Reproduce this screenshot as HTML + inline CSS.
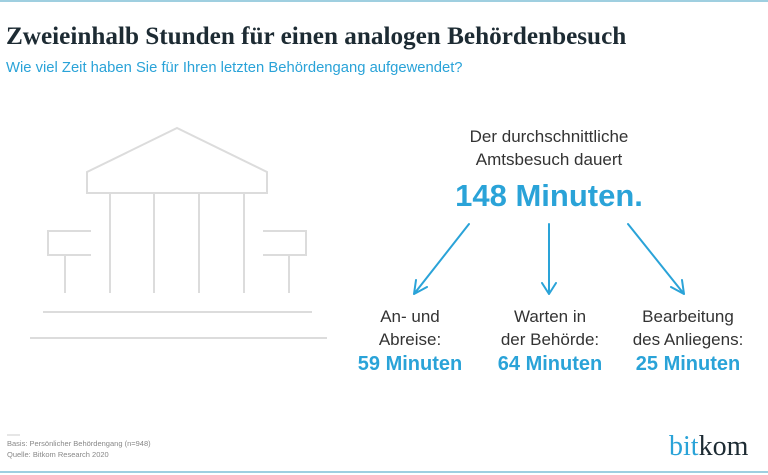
<!DOCTYPE html>
<html><head><meta charset="utf-8"><style>
body{margin:0;width:768px;height:475px;background:#fff;position:relative;overflow:hidden;font-family:"Liberation Sans",sans-serif}
.t{position:absolute;white-space:nowrap}
</style></head><body>
<div style="position:absolute;left:0;top:0;width:768px;height:2px;background:#9fcfe0"></div>
<div style="position:absolute;left:0;top:471px;width:768px;height:2px;background:#9fcfe0"></div>
<div class="t" style="left:6px;top:23px;font-family:'Liberation Serif',serif;font-weight:bold;font-size:25.2px;color:#1d2b33">Zweieinhalb Stunden für einen analogen Behördenbesuch</div>
<div class="t" style="left:6px;top:60px;font-size:14.8px;color:#2aa3d8">Wie viel Zeit haben Sie für Ihren letzten Behördengang aufgewendet?</div>
<svg width="768" height="475" style="position:absolute;left:0;top:0" fill="none">
<g stroke="#dcdcdc" stroke-width="2">
<path d="M87,193 L87,172 L177,128 L267,172 L267,193 Z"/>
<path d="M110,193V293M154,193V293M199,193V293M244,193V293"/>
<path d="M91,231H48V255H91M65,255V293"/>
<path d="M263,231H306V255H263M289,255V293"/>
<path d="M43,312H312M30,338H327"/>
</g>
<g stroke="#2aa3d8" stroke-width="2" stroke-linecap="round">
<path d="M469,224L414,294M414,294L416,280M414,294L427,287"/>
<path d="M549,224V294M549,294L542,283M549,294L556,283"/>
<path d="M628,224L684,294M684,294L671,287M684,294L682,280"/>
</g>
<text x="7" y="446" font-size="7.5" fill="#888" font-family="Liberation Sans">Basis: Persönlicher Behördengang (n=948)</text>
<text x="7" y="457" font-size="7.5" fill="#888" font-family="Liberation Sans">Quelle: Bitkom Research 2020</text>
<line x1="7" y1="435" x2="20" y2="435" stroke="#ccc"/>
<text x="669" y="455" font-size="28" font-family="Liberation Serif" fill="#2aa3d8">bit<tspan fill="#1d2b33">kom</tspan></text>
<g font-family="Liberation Sans" text-anchor="middle">
<text x="549" y="142" font-size="17" fill="#333">Der durchschnittliche</text>
<text x="549" y="165" font-size="17" fill="#333">Amtsbesuch dauert</text>
<text x="549" y="206" font-size="31" font-weight="bold" fill="#2aa3d8">148 Minuten.</text>
<text x="410" y="322" font-size="17" fill="#333">An- und</text>
<text x="410" y="345" font-size="17" fill="#333">Abreise:</text>
<text x="410" y="370" font-size="20" font-weight="bold" fill="#2aa3d8">59 Minuten</text>
<text x="550" y="322" font-size="17" fill="#333">Warten in</text>
<text x="550" y="345" font-size="17" fill="#333">der Behörde:</text>
<text x="550" y="370" font-size="20" font-weight="bold" fill="#2aa3d8">64 Minuten</text>
<text x="688" y="322" font-size="17" fill="#333">Bearbeitung</text>
<text x="688" y="345" font-size="17" fill="#333">des Anliegens:</text>
<text x="688" y="370" font-size="20" font-weight="bold" fill="#2aa3d8">25 Minuten</text>
</g>
</svg>
</body></html>
